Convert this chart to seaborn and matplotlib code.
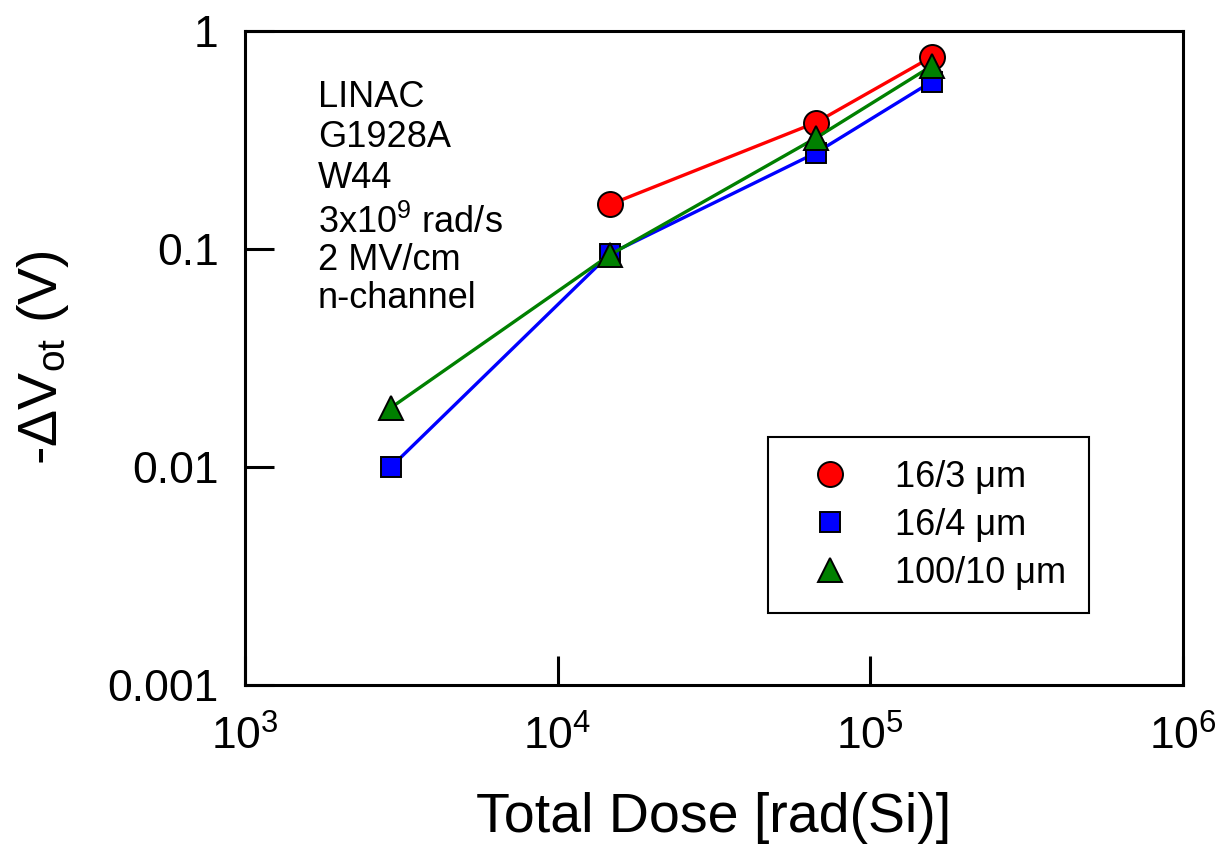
import matplotlib
matplotlib.use("Agg")
import matplotlib.pyplot as plt
import seaborn as sns
from matplotlib.lines import Line2D
from matplotlib.ticker import FixedLocator, FixedFormatter, NullLocator

# ---- data ----
series_names = ["16/3 \u03bcm", "16/4 \u03bcm", "100/10 \u03bcm"]
dose_16_3 = [1.47e4, 6.7e4, 1.57e5]
dvot_16_3 = [0.16, 0.38, 0.76]
dose_16_4 = [2.93e3, 1.47e4, 6.7e4, 1.57e5]
dvot_16_4 = [0.0100, 0.095, 0.276, 0.585]
dose_100_10 = [2.93e3, 1.47e4, 6.7e4, 1.57e5]
dvot_100_10 = [0.0187, 0.094, 0.323, 0.69]
x_ticks = [1e3, 1e4, 1e5, 1e6]
x_tick_labels = [r"$10^{3}$", r"$10^{4}$", r"$10^{5}$", r"$10^{6}$"]
y_ticks = [0.001, 0.01, 0.1, 1]
y_tick_labels = ["0.001", "0.01", "0.1", "1"]
annotation_lines = ["LINAC", "G1928A", "W44", r"3x10$^{9}$ rad/s", "2 MV/cm", "n-channel"]

sns.set_style("white")
plt.rcParams["font.family"] = ["Liberation Sans", "DejaVu Sans"]
plt.rcParams["mathtext.fontset"] = "custom"
plt.rcParams["mathtext.rm"] = "Liberation Sans"
plt.rcParams["mathtext.it"] = "Liberation Sans"
plt.rcParams["mathtext.bf"] = "Liberation Sans:bold"
plt.rcParams["mathtext.default"] = "regular"
plt.rcParams["text.color"] = "black"
plt.rcParams["axes.labelcolor"] = "black"
plt.rcParams["xtick.color"] = "black"
plt.rcParams["ytick.color"] = "black"

fig = plt.figure(figsize=(12.26, 8.46), dpi=100)
ax = fig.add_axes([0.1998, 0.1903, 0.7651, 0.7731])

line_kw = dict(markeredgecolor="black", markeredgewidth=1.4, linewidth=2.4,
               legend=False, errorbar=None, ax=ax)
sns.lineplot(x=dose_16_3, y=dvot_16_3, color="red", marker="o", markersize=18, **line_kw)
sns.lineplot(x=dose_16_4, y=dvot_16_4, color="blue", marker="s", markersize=15, **line_kw)
sns.lineplot(x=dose_100_10, y=dvot_100_10, color="green", marker="^", markersize=17, **line_kw)

ax.set_xscale("log")
ax.set_yscale("log")
ax.set_xlim(1e3, 1e6)
ax.set_ylim(1e-3, 1)
ax.xaxis.set_major_locator(FixedLocator(x_ticks))
ax.xaxis.set_major_formatter(FixedFormatter(x_tick_labels))
ax.yaxis.set_major_locator(FixedLocator(y_ticks))
ax.yaxis.set_major_formatter(FixedFormatter(y_tick_labels))
ax.xaxis.set_minor_locator(NullLocator())
ax.yaxis.set_minor_locator(NullLocator())
ax.tick_params(axis="both", which="major", direction="in", length=21, width=2.2,
               labelsize=32, colors="black", bottom=True, left=True, top=False, right=False)
ax.tick_params(axis="x", pad=22)
ax.tick_params(axis="y", pad=19)

for sp in ax.spines.values():
    sp.set_visible(True)
    sp.set_linewidth(2.2)
    sp.set_color("black")

ax.set_xlabel("Total Dose [rad(Si)]", fontsize=40, labelpad=24)
ax.set_ylabel(r"-$\Delta$V$_{ot}$ (V)", fontsize=40, labelpad=26)

baselines = [0.8838, 0.8226, 0.7599, 0.6911, 0.6346, 0.5765]
for txt, yb in zip(annotation_lines, baselines):
    ax.text(0.0778, yb, txt, transform=ax.transAxes, fontsize=26, va="baseline", ha="left")

handles = [
    Line2D([], [], linestyle="none", marker="o", markersize=18, markerfacecolor="red",
           markeredgecolor="black", markeredgewidth=1.4),
    Line2D([], [], linestyle="none", marker="s", markersize=15, markerfacecolor="blue",
           markeredgecolor="black", markeredgewidth=1.4),
    Line2D([], [], linestyle="none", marker="^", markersize=17, markerfacecolor="green",
           markeredgecolor="black", markeredgewidth=1.4),
]
leg = ax.legend(handles, series_names, loc="upper left", bbox_to_anchor=(0.5576, 0.379),
                borderaxespad=0, fontsize=26, frameon=True, fancybox=False,
                edgecolor="black", framealpha=1, borderpad=0.62, labelspacing=0.36,
                handlelength=2.2, handletextpad=0.7)
leg.get_frame().set_linewidth(1.5)

fig.savefig("out.png", dpi=100)
